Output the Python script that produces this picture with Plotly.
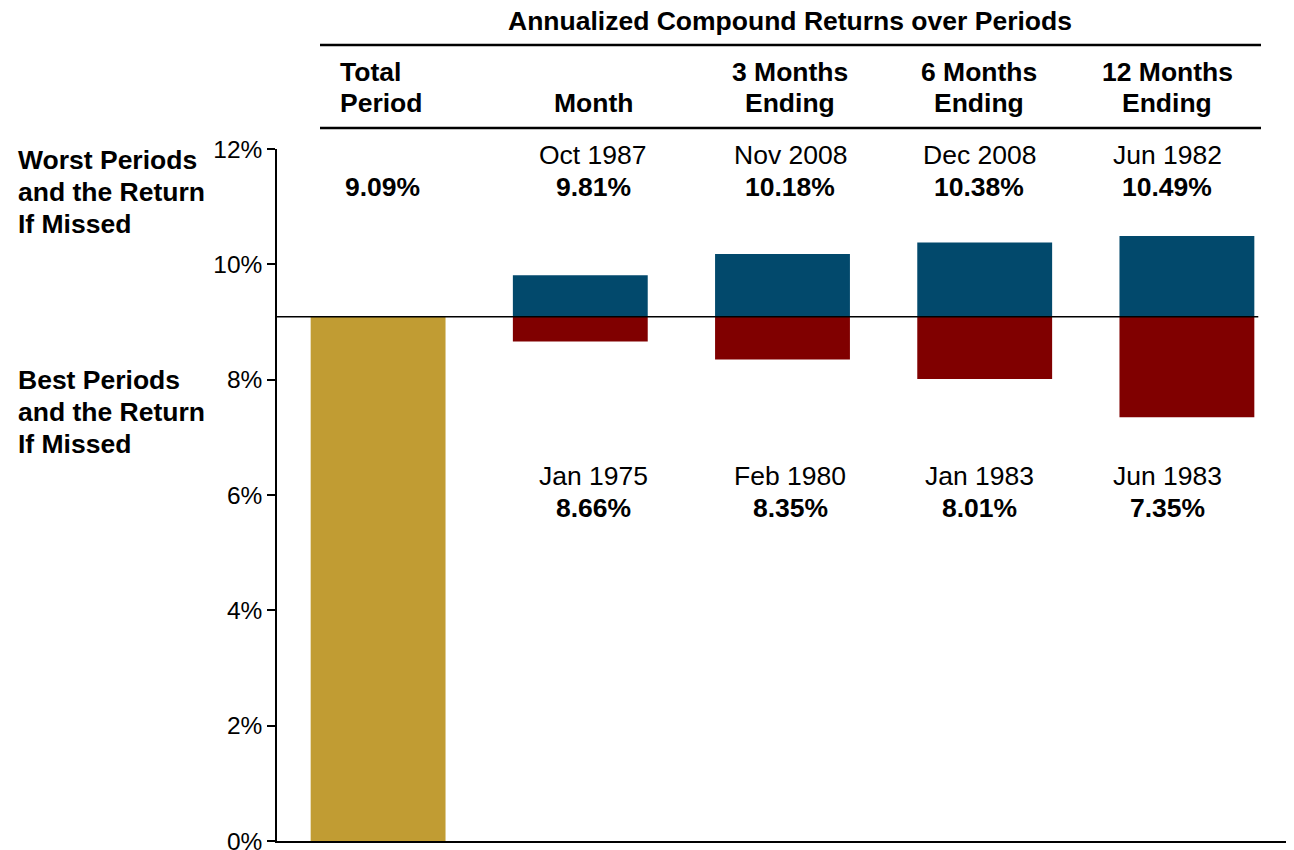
import plotly.graph_objects as go

# ---- data ----
categories = ["Total Period", "Month", "3 Months Ending", "6 Months Ending", "12 Months Ending"]
header_lines = [["Total", "Period"], ["Month"], ["3 Months", "Ending"], ["6 Months", "Ending"], ["12 Months", "Ending"]]
total_return = 9.09
worst_dates = ["Oct 1987", "Nov 2008", "Dec 2008", "Jun 1982"]
worst_returns = [9.81, 10.18, 10.38, 10.49]
best_dates = ["Jan 1975", "Feb 1980", "Jan 1983", "Jun 1983"]
best_returns = [8.66, 8.35, 8.01, 7.35]
y_ticks = [0, 2, 4, 6, 8, 10, 12]
y_tick_labels = ["0%", "2%", "4%", "6%", "8%", "10%", "12%"]
title_text = "Annualized Compound Returns over Periods"
worst_label = ["Worst Periods", "and the Return", "If Missed"]
best_label = ["Best Periods", "and the Return", "If Missed"]

GOLD = "#C19C33"
BLUE = "#02496C"
RED = "#800000"
FONT = "Liberation Sans, Arial, sans-serif"

OFF = 8  # page body margin
W, H = 1294 - OFF, 850 - OFF
L, R, T, B = 277 - OFF, 6, 149 - OFF, 9
PW = W - L - R
PH = H - T - B


def px(x):
    return (x - OFF - L) / PW


def py(y):
    return (H - B - (y - OFF)) / PH


idx = list(range(len(categories)))
fig = go.Figure()

fig.add_trace(go.Bar(x=[0], y=[total_return], base=[0], marker_color=GOLD,
                     width=0.667, marker_line_width=0, hoverinfo="skip"))
fig.add_trace(go.Bar(x=idx[1:], y=[w - total_return for w in worst_returns],
                     base=[total_return] * 4, marker_color=BLUE, width=0.667,
                     marker_line_width=0, hoverinfo="skip"))
fig.add_trace(go.Bar(x=idx[1:], y=[total_return - b for b in best_returns],
                     base=best_returns, marker_color=RED, width=0.667,
                     marker_line_width=0, hoverinfo="skip"))

# reference line at total return
fig.add_shape(type="line", xref="x", yref="y", x0=-0.5, x1=4.353,
              y0=total_return, y1=total_return, line=dict(color="black", width=1.5))

# header rules
for yy in (45, 128):
    fig.add_shape(type="line", xref="paper", yref="paper", x0=px(320), x1=px(1261),
                  y0=py(yy), y1=py(yy), line=dict(color="black", width=2.5))

ann = []


def add(text, x, y, size=26.5, bold=False, xanchor="center"):
    ann.append(dict(text=("<b>%s</b>" % text) if bold else text, x=px(x), y=py(y),
                    xref="paper", yref="paper", showarrow=False, xanchor=xanchor,
                    yanchor="middle", borderpad=0,
                    font=dict(family=FONT, size=size, color="black")))


add(title_text, 790, 21, size=26.5, bold=True)

col_x = [382, 593, 790, 979, 1167]
for i, lines in enumerate(header_lines):
    ys = [72, 103][-len(lines):]
    for ln, yy in zip(lines, ys):
        if i == 0:
            add(ln, 339, yy, bold=True, xanchor="left")
        else:
            add(ln, col_x[i], yy, bold=True)

add("%.2f%%" % total_return, col_x[0], 187, bold=True)
for i in range(4):
    add(worst_dates[i], col_x[i + 1], 155)
    add("%.2f%%" % worst_returns[i], col_x[i + 1], 187, bold=True)
    add(best_dates[i], col_x[i + 1], 476)
    add("%.2f%%" % best_returns[i], col_x[i + 1], 508, bold=True)

for k, ln in enumerate(worst_label):
    add(ln, 17, 160 + 32 * k, bold=True, xanchor="left")
for k, ln in enumerate(best_label):
    add(ln, 17, 380 + 32 * k, bold=True, xanchor="left")

fig.update_layout(
    width=W, height=H, margin=dict(l=L, r=R, t=T, b=B, autoexpand=False),
    paper_bgcolor="white", plot_bgcolor="white",
    barmode="overlay", showlegend=False, annotations=ann,
    font=dict(family=FONT, color="black"),
)
fig.update_xaxes(range=[-0.5, 4.5], showticklabels=False, ticks="", showgrid=False,
                 zeroline=False, showline=True, linecolor="black", linewidth=2,
                 automargin=False)
fig.update_yaxes(range=[0, 12], tickvals=y_ticks, ticktext=y_tick_labels,
                 ticks="outside", ticklen=8, tickcolor="black", tickwidth=1.5,
                 showgrid=False, zeroline=False, showline=True, linecolor="black",
                 linewidth=1.5, ticklabeloverflow="allow", automargin=False,
                 tickfont=dict(family=FONT, size=24.5, color="black"))

fig.write_html("out.html")
